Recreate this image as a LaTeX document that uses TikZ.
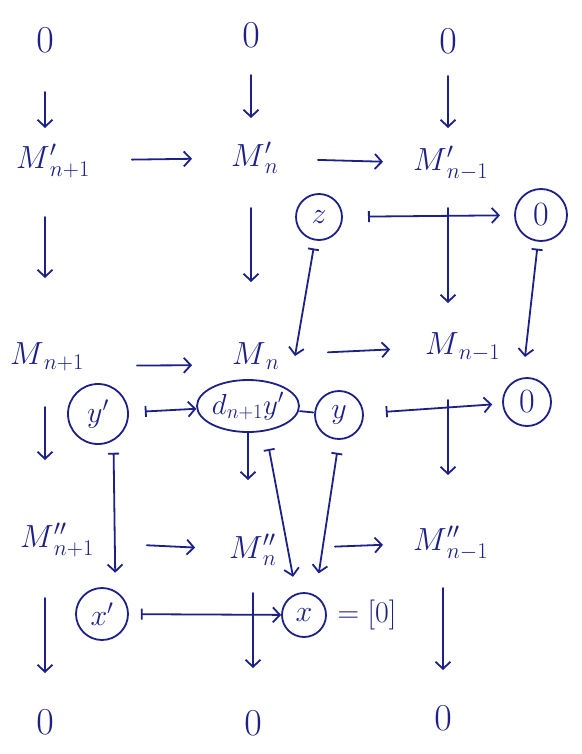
\RequirePackage{fix-cm}
\documentclass[tikz,border=0pt]{standalone}
\usetikzlibrary{arrows.meta,shapes.geometric}
\definecolor{ink}{RGB}{28,32,135}
\tikzset{
  lbl/.style={text=ink, inner sep=0pt, font=\fontsize{32}{38}\selectfont},
  zer/.style={text=ink, inner sep=0pt, font=\fontsize{38}{42}\selectfont},
  circ/.style={draw=ink, circle, line width=1.8pt, inner sep=0pt, text=ink, font=\fontsize{30}{34}\selectfont},
  ell/.style={draw=ink, ellipse, line width=1.8pt, inner sep=0pt, text=ink, font=\fontsize{29}{33}\selectfont},
  arr/.style={draw=ink, line width=1.8pt, line cap=round, -{Straight Barb[length=7pt,width=15pt]}},
  mapsto/.style={draw=ink, line width=1.8pt, line cap=round, {Bar[width=11pt]}-{Straight Barb[length=7pt,width=15pt]}},
  plain/.style={draw=ink, line width=1.8pt, line cap=round}
}
\begin{document}
\begin{tikzpicture}[x=1pt,y=-1pt]
\useasboundingbox (0,0) rectangle (581,754);
% zeros
\node[zer] (Z1) at (45,40) {$0$};
\node[zer] (Z2) at (251,35) {$0$};
\node[zer] (Z3) at (448,41) {$0$};
\node[zer] (W1) at (45,722) {$0$};
\node[zer] (W2) at (253,723) {$0$};
\node[zer] (W3) at (443,718) {$0$};
% modules
\node[lbl] (A1) at (33,161) {$M\rlap{$'_{n+1}$}$};
\node[lbl] (A2) at (248,158) {$M\rlap{$'_{n}$}$};
\node[lbl] (A3) at (430,163) {$M\rlap{$'_{n-1}$}$};
\node[lbl] (B1) at (27,357) {$M\rlap{$_{n+1}$}$};
\node[lbl] (B2) at (249,356) {$M\rlap{$_{n}$}$};
\node[lbl] (B3) at (442,347) {$M\rlap{$_{n-1}$}$};
\node[lbl] (C1) at (37,540) {$M\rlap{$''_{n+1}$}$};
\node[lbl] (C2) at (246,550) {$M\rlap{$''_{n}$}$};
\node[lbl] (C3) at (430,543) {$M\rlap{$''_{n-1}$}$};
% elements
\node[circ, minimum size=46pt] (Zc) at (319,217) {$z$};
\node[circ, minimum size=52pt, font=\fontsize{34}{38}\selectfont] (O1) at (541,215) {$0$};
\node[circ, minimum size=60pt] (yp) at (98,414) {$y'$};
\node[ell, minimum width=102pt, minimum height=52pt] (D) at (248,406) {$d_{n+1}y'$};
\node[circ, minimum size=48pt] (yc) at (339,415) {$y$};
\node[circ, minimum size=48pt, font=\fontsize{34}{38}\selectfont] (O2) at (527,402) {$0$};
\node[circ, minimum size=52pt] (xp) at (102,614) {$x'$};
\node[circ, minimum size=44pt] (xc) at (304,615) {$x$};
\node[text=ink, inner sep=0pt, font=\fontsize{30}{34}\selectfont] (eq) at (367,615) {$=[0]$};
% top vertical arrows
\draw[arr, shorten <=52pt, shorten >=33pt] (Z1.center) -- (Z1 |- A1);
\draw[arr, shorten <=40pt, shorten >=40pt] (Z2.center) -- (Z2 |- A2);
\draw[arr, shorten <=35pt, shorten >=35pt] (Z3.center) -- (Z3 |- A3);
% row M'
\draw[arr, shorten <=99pt, shorten >=56pt] (A1.center) -- (A2.center);
\draw[arr, shorten <=70pt, shorten >=47pt] (A2.center) -- (A3.center);
% M' to M
\draw[arr, shorten <=56pt, shorten >=79pt] (A1 -| Z1) -- (B1 -| Z1);
\draw[arr, shorten <=50pt, shorten >=74pt] (A2 -| Z2) -- (B2 -| Z2);
\draw[arr, shorten <=45pt, shorten >=44pt] (A3 -| Z3) -- (B3 -| Z3);
% z and its images
\draw[mapsto, shorten <=49pt, shorten >=41pt] (Zc.center) -- (O1.center);
\draw[mapsto, shorten <=8pt] (Zc) -- ([xshift=46pt]B2.center);
\draw[mapsto, shorten <=7pt] (O1) -- ([xshift=83pt,yshift=-10pt]B3.center);
% row M
\draw[arr, shorten <=110pt, shorten >=57pt] ([yshift=-9pt]B1.center) -- ([yshift=-9pt]B2.center);
\draw[arr, shorten <=79pt, shorten >=52pt] (B2.center) -- (B3.center);
% elements of row M
\draw[mapsto, shorten <=16pt] (yp) -- (D);
\draw[plain, shorten <=1pt, shorten >=1pt] (D) -- (yc);
\draw[mapsto, shorten <=22pt, shorten >=10pt] (yc) -- (O2);
% M to M''
\draw[arr, shorten <=50pt, shorten >=80pt] (B1 -| W1) -- (C1 -| W1);
\draw[arr, shorten >=70pt] (D) -- (D |- C2);
\draw[arr, shorten <=53pt, shorten >=68pt] (B3 -| Z3) -- (C3 -| Z3);
% lifts down to M''
\draw[mapsto, shorten <=12pt, shorten >=18pt] (yp.-60) -- (xp.60);
\draw[mapsto, shorten <=18pt, shorten >=17pt] (D.-55) -- (xc.110);
\draw[mapsto, shorten <=13pt, shorten >=22pt] (yc.-90) -- (xc.60);
% row M''
\draw[arr, shorten <=110pt, shorten >=51pt] (C1.center) -- (C2.center);
\draw[arr, shorten <=89pt, shorten >=47pt] (C2.center) -- (C3.center);
\draw[mapsto, shorten <=12pt] (xp) -- (xc);
% M'' to 0
\draw[arr, shorten <=58pt, shorten >=49pt] (C1 -| W1) -- (W1.center);
\draw[arr, shorten <=43pt, shorten >=55pt] (C2 -| W2) -- (W2.center);
\draw[arr, shorten <=45pt, shorten >=48pt] (C3 -| W3) -- (W3.center);
\end{tikzpicture}
\end{document}
